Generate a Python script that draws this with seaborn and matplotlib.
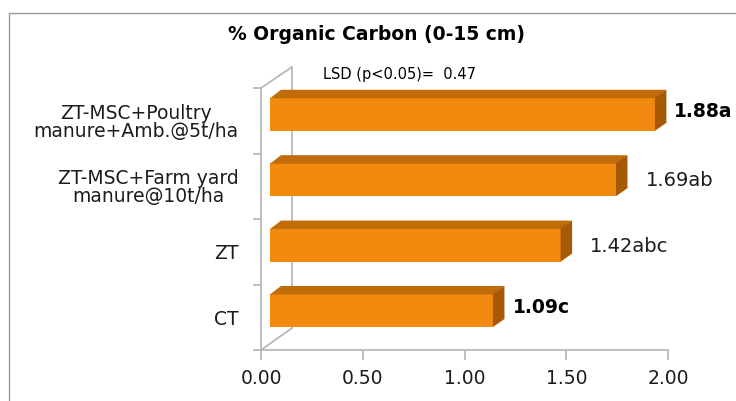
import numpy as np
import pandas as pd
import matplotlib
matplotlib.use("Agg")
import matplotlib.pyplot as plt
from matplotlib.patches import Polygon, Rectangle
from matplotlib.lines import Line2D
import seaborn as sns

# ---------------- data ----------------
categories = ["ZT-MSC+Poultry\nmanure+Amb.@5t/ha",
              "ZT-MSC+Farm yard\nmanure@10t/ha",
              "ZT",
              "CT"]
values = [1.88, 1.69, 1.42, 1.09]
letters = ["a", "ab", "abc", "c"]
xticks = [0.0, 0.5, 1.0, 1.5, 2.0]
xtick_labels = ["0.00", "0.50", "1.00", "1.50", "2.00"]
title = "% Organic Carbon (0-15 cm)"
lsd_value = 0.47

df = pd.DataFrame({"treatment": categories, "oc": values})

# ---------------- figure ----------------
sns.set_theme(style="white")
plt.rcParams["font.family"] = ["DejaVu Sans"]

W, H = 736, 401
fig = plt.figure(figsize=(W / 100, H / 100), dpi=100)
fig.patch.set_facecolor("white")


def fx(x):
    return x / W


def fy(y):
    return 1 - y / H


AX_COL = "#b4b4b4"
TXT = "#1c1c1c"
FRONT = "#f28a10"
TOP = "#c26b09"
SIDE = "#a65a07"

# outer chart border
fig.add_artist(Rectangle((fx(9), fy(405)), fx(740) - fx(9), fy(13) - fy(405),
                         transform=fig.transFigure, fill=False,
                         edgecolor="#9a9a9a", lw=1.0, zorder=-5))

# ---------- front axes (floor / left wall / ticks) ----------
L, R, T, B = 261, 668, 88, 350
axf = fig.add_axes([fx(L), fy(B), fx(R) - fx(L), fy(T) - fy(B)], zorder=0)
axf.set_facecolor("none")
axf.set_xlim(0, 2)
n = len(categories)
axf.set_ylim(0, n)
for s in ["top", "right"]:
    axf.spines[s].set_visible(False)
for s in ["left", "bottom"]:
    axf.spines[s].set_color(AX_COL)
    axf.spines[s].set_linewidth(1.2)
axf.set_xticks(xticks)
axf.set_xticklabels(xtick_labels, fontsize=13.5, color=TXT)
axf.tick_params(axis="x", length=7, width=1.2, color=AX_COL, pad=7, direction="out", bottom=True)
centers = [n - i - 0.5 for i in range(n)]
axf.set_yticks(centers)
axf.set_yticklabels(categories, fontsize=13.5, color=TXT, linespacing=0.92)
for lab in axf.get_yticklabels():
    lab.set_multialignment("center")
axf.tick_params(axis="y", which="major", length=0, pad=16, left=True)
axf.set_yticks(list(range(n + 1)), minor=True)
axf.tick_params(axis="y", which="minor", length=6, width=1.2, color=AX_COL, left=True)

# 3D wall lines
for (x0, y0, x1, y1) in [(292, 67, 292, 328), (261, 88, 292, 67), (261, 350, 292, 328)]:
    axf.add_line(Line2D([fx(x0), fx(x1)], [fy(y0), fy(y1)], transform=fig.transFigure,
                        color=AX_COL, lw=1.2, clip_on=False))

# ---------- bars axes ----------
bL, bW = 270, 410
bT, bB = 81.6, 343.2
axb = fig.add_axes([fx(bL), fy(bB), fx(bL + bW) - fx(bL), fy(bT) - fy(bB)], zorder=1)
sns.barplot(data=df, x="oc", y="treatment", order=categories, ax=axb,
            color=FRONT, saturation=1, width=0.505, edgecolor="none", linewidth=0)
axb.set_xlim(0, 2)
axb.set_ylim(n - 0.5, -0.5)
axb.axis("off")
axb.set_facecolor("none")

fig.canvas.draw()
DX, DY = 11, 8
tr = axb.transData
inv = tr.inverted()
for p in list(axb.patches):
    x0, y0 = p.get_x(), p.get_y()
    w, h = p.get_width(), p.get_height()
    (ax0, ay_top) = tr.transform((x0, y0))
    (ax1, ay_bot) = tr.transform((x0 + w, y0 + h))
    top_face = [(ax0, ay_top - 0.5), (ax1, ay_top - 0.5), (ax1 + DX, ay_top + DY), (ax0 + DX, ay_top + DY)]
    side_face = [(ax1 - 0.5, ay_top), (ax1 + DX, ay_top + DY), (ax1 + DX, ay_bot + DY), (ax1 - 0.5, ay_bot)]
    for verts, col in [(top_face, TOP), (side_face, SIDE)]:
        axb.add_patch(Polygon(inv.transform(verts), closed=True, facecolor=col,
                              edgecolor="none", clip_on=False))

# value labels (max and min emphasised in bold)
vmax, vmin = max(values), min(values)
for i, (v, let) in enumerate(zip(values, letters)):
    bold = v in (vmax, vmin)
    axb.annotate(f"{v:.2f}{let}", xy=(v, i), xycoords="data",
                 xytext=(19 if bold else 29, 3 if bold else -1), textcoords="offset pixels",
                 ha="left", va="center", fontsize=13.5 if bold else 14,
                 fontweight="bold" if bold else "normal",
                 color="black" if bold else TXT, annotation_clip=False)

# title and LSD note
fig.text(fx(377), fy(34), title, ha="center", va="center", fontsize=13.5,
         fontweight="bold", color="black")
fig.text(fx(323), fy(75), f"LSD (p<0.05)=  {lsd_value:.2f}", ha="left", va="center",
         fontsize=10.5, color="black")

fig.savefig("out.png", dpi=100, facecolor="white")
